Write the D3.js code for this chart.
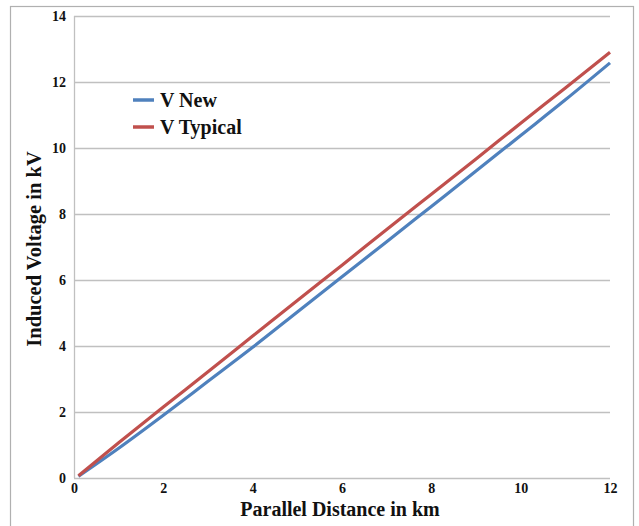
<!DOCTYPE html>
<html><head><meta charset="utf-8">
<script src="https://cdn.jsdelivr.net/npm/d3@7"></script>
<style>body{margin:0;background:#fff}svg{display:block}</style>
</head><body>
<svg id="c" width="639" height="526"></svg>
<script>
const distanceKm = [0.1, 1, 2, 3, 4, 5, 6, 7, 8, 9, 10, 11, 12];
const vNew =      [0.05, 0.9, 1.9, 2.93, 3.96, 5.03, 6.1, 7.16, 8.23, 9.3, 10.38, 11.46, 12.58];
const vTypical =  [0.07, 1.07, 2.15, 3.22, 4.3, 5.38, 6.45, 7.53, 8.6, 9.67, 10.75, 11.82, 12.9];
const xTicks = [0, 2, 4, 6, 8, 10, 12];
const yTicks = [0, 2, 4, 6, 8, 10, 12, 14];
const seriesNames = ["V New", "V Typical"];
const seriesColors = ["#4F81BD", "#C0504D"];

const svg = d3.select("#c");
const font = "'Liberation Serif','Times New Roman',serif";
svg.append("rect").attr("x", 10.5).attr("y", 6.5).attr("width", 623).attr("height", 530)
  .attr("fill", "none").attr("stroke", "#b0b0b0").attr("stroke-width", 1.2);

const x = d3.scaleLinear().domain([0, 12]).range([74, 610]);
const y = d3.scaleLinear().domain([0, 14]).range([478, 16]);

// gridlines
svg.append("g").selectAll("line").data(yTicks).join("line")
  .attr("x1", x(0)).attr("x2", x(12)).attr("y1", d => y(d)+0.5).attr("y2", d => y(d)+0.5)
  .attr("stroke", "#c0c0c0").attr("stroke-width", 1.3);
svg.append("line").attr("x1", x(0)+0.5).attr("x2", x(0)+0.5).attr("y1", y(14)).attr("y2", y(0))
  .attr("stroke", "#c0c0c0").attr("stroke-width", 1.3);

// axes via d3 axis
const yAx = svg.append("g").attr("transform", `translate(${x(0)-6},0)`)
  .call(d3.axisLeft(y).tickValues(yTicks).tickSize(0).tickPadding(2));
yAx.select(".domain").remove();
yAx.selectAll("text").attr("font-family", font).attr("font-weight", "bold").attr("font-size", 14).attr("fill", "#111");
const xAx = svg.append("g").attr("transform", `translate(0,${y(0)+3})`)
  .call(d3.axisBottom(x).tickValues(xTicks).tickSize(0).tickPadding(2));
xAx.select(".domain").remove();
xAx.selectAll("text").attr("font-family", font).attr("font-weight", "bold").attr("font-size", 14).attr("fill", "#111");

// lines
const line = d3.line().x(d => x(d[0])).y(d => y(d[1])).curve(d3.curveMonotoneX);
[vNew, vTypical].forEach((vals, i) => {
  svg.append("path").datum(distanceKm.map((d, j) => [d, vals[j]]))
    .attr("d", line).attr("fill", "none").attr("stroke", seriesColors[i]).attr("stroke-width", 3.2);
});

// legend
seriesNames.forEach((n, i) => {
  const ly = 100 + i * 27;
  svg.append("line").attr("x1", 133).attr("x2", 154).attr("y1", ly).attr("y2", ly)
    .attr("stroke", seriesColors[i]).attr("stroke-width", 3.5);
  svg.append("text").attr("x", 160).attr("y", ly + 7).text(n)
    .attr("font-family", font).attr("font-weight", "bold").attr("font-size", 20).attr("fill", "#111");
});

// titles
svg.append("text").attr("x", 340).attr("y", 516).attr("text-anchor", "middle")
  .text("Parallel Distance in km").attr("font-family", font).attr("font-weight", "bold").attr("font-size", 20).attr("fill", "#111");
svg.append("text").attr("transform", "translate(41,249) rotate(-90)").attr("text-anchor", "middle")
  .text("Induced Voltage in kV").attr("font-family", font).attr("font-weight", "bold").attr("font-size", 20.5).attr("fill", "#111");
</script>
</body></html>
